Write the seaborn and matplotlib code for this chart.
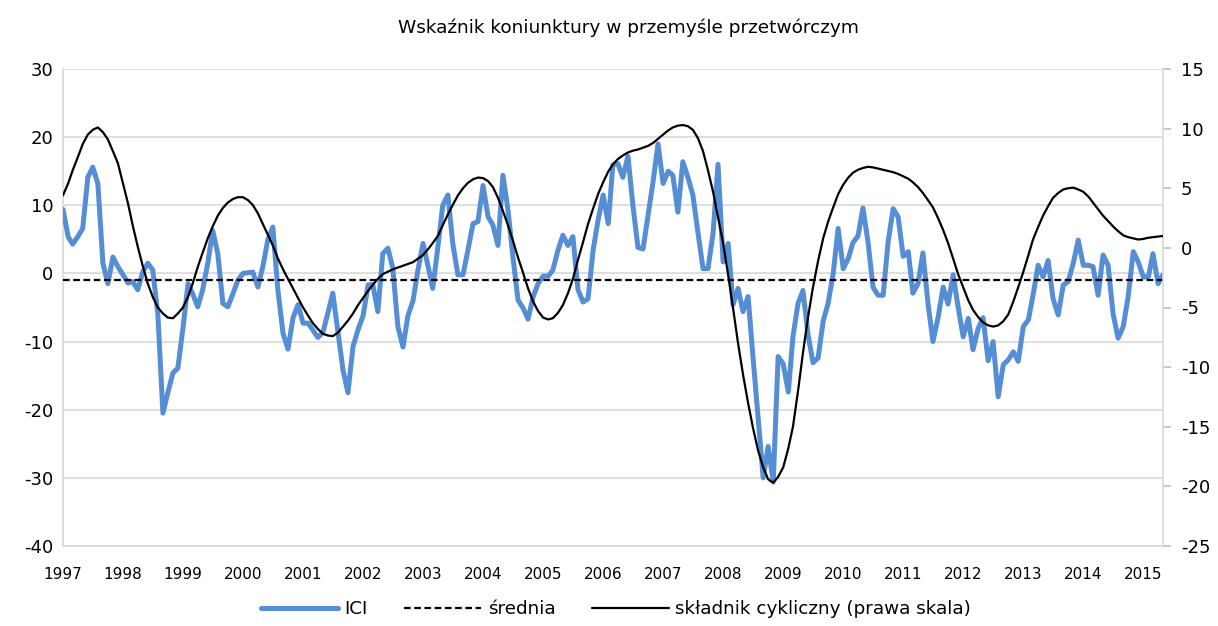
import matplotlib
matplotlib.use("Agg")
import matplotlib.pyplot as plt
import matplotlib.dates as mdates
from matplotlib.lines import Line2D
import pandas as pd
import seaborn as sns

# monthly data, Jan 1997 - May 2015
months = pd.date_range("1997-01-01", periods=221, freq="MS")

ici = [
    9.4, 5.4, 4.3, 5.4, 6.6, 14.1, 15.6, 13.2, 1.5, -1.5, 2.4, 1.0,            # 1997
    -0.2, -1.4, -1.2, -2.4, 0.2, 1.5, 0.5, -5.9, -20.5, -17.5, -14.6, -13.9,   # 1998
    -8.0, -1.5, -3.0, -4.9, -2.4, 1.5, 6.3, 2.9, -4.4, -4.9, -3.0, -1.0,       # 1999
    0.0, 0.1, 0.2, -2.0, 1.0, 5.0, 6.8, -2.5, -8.8, -11.1, -6.5, -4.6,         # 2000
    -7.3, -7.3, -8.3, -9.4, -8.7, -5.8, -2.9, -8.5, -14.2, -17.5, -10.7, -8.3, # 2001
    -6.2, -1.7, -1.6, -5.6, 2.9, 3.7, 0.8, -7.8, -10.8, -6.2, -4.0, 0.5,       # 2002
    4.4, 1.0, -2.2, 3.8, 10.0, 11.5, 4.4, -0.2, -0.2, 3.4, 7.3, 7.6,           # 2003
    12.9, 8.3, 7.1, 4.1, 14.4, 9.3, 2.4, -3.9, -5.1, -6.7, -3.4, -1.5,         # 2004
    -0.4, -0.4, 0.5, 3.4, 5.6, 4.1, 5.4, -2.4, -4.2, -3.7, 3.4, 7.8,           # 2005
    11.5, 7.3, 15.9, 16.1, 14.1, 17.2, 10.0, 3.8, 3.6, 8.5, 13.5, 19.0,        # 2006
    13.2, 15.0, 14.4, 9.0, 16.4, 14.1, 11.5, 6.0, 0.7, 0.7, 5.9, 16.0,         # 2007
    1.7, 4.4, -4.6, -2.2, -5.6, -3.4, -12.3, -21.2, -30.0, -25.4, -30.6, -12.2,  # 2008
    -13.3, -17.4, -9.3, -4.4, -2.5, -9.0, -13.1, -12.4, -7.0, -4.4, 0.0, 6.6,  # 2009
    0.7, 2.2, 4.5, 5.5, 9.6, 4.6, -2.0, -3.2, -3.2, 4.6, 9.5, 8.3,             # 2010
    2.5, 3.2, -2.9, -1.5, 3.0, -4.4, -10.0, -6.5, -2.0, -4.5, -0.2, -4.9,      # 2011
    -9.3, -6.6, -11.2, -8.1, -6.5, -12.8, -10.0, -18.1, -13.4, -12.7, -11.5, -12.9,  # 2012
    -7.8, -6.8, -3.2, 1.2, -0.5, 1.9, -3.7, -6.1, -1.7, -1.2, 1.5, 4.9,        # 2013
    1.2, 1.2, 1.0, -3.2, 2.7, 1.2, -5.9, -9.5, -7.8, -3.4, 3.2, 1.7,           # 2014
    -0.5, -0.5, 2.9, -1.5, -0.2,                                               # 2015
]

cycle = [
    4.4, 5.4, 6.5, 7.6, 8.7, 9.5, 9.9, 10.1, 9.7, 9.1, 8.1, 7.1,
    5.4, 3.7, 1.9, 0.1, -1.5, -3.0, -4.1, -5.0, -5.5, -5.85, -5.9, -5.5,
    -5.0, -4.1, -3.0, -1.6, -0.4, 0.8, 1.8, 2.7, 3.35, 3.8, 4.1, 4.25,
    4.25, 4.0, 3.6, 2.9, 2.0, 1.1, 0.2, -0.9, -1.8, -2.6, -3.4, -4.2,
    -5.0, -5.7, -6.3, -6.8, -7.2, -7.35, -7.4, -7.1, -6.6, -6.1, -5.5, -4.8,
    -4.2, -3.6, -3.1, -2.6, -2.2, -2.0, -1.8, -1.65, -1.5, -1.35, -1.2, -0.9,
    -0.6, -0.1, 0.4, 1.0, 1.9, 2.8, 3.6, 4.4, 5.0, 5.45, 5.75, 5.9,
    5.85, 5.6, 5.1, 4.2, 3.1, 1.9, 0.6, -0.8, -2.1, -3.4, -4.5, -5.3,
    -5.85, -6.0, -5.9, -5.45, -4.8, -3.8, -2.6, -1.0, 0.5, 2.0, 3.3, 4.5,
    5.5, 6.4, 7.0, 7.45, 7.75, 8.0, 8.15, 8.25, 8.4, 8.55, 8.8, 9.15,
    9.5, 9.85, 10.1, 10.25, 10.3, 10.2, 9.9, 9.2, 8.1, 6.5, 4.7, 2.6,
    0.4, -2.3, -5.0, -8.0, -10.6, -13.0, -15.1, -17.0, -18.4, -19.4, -19.7, -19.2,
    -18.4, -16.8, -15.0, -12.0, -8.8, -5.8, -3.3, -1.1, 0.8, 2.2, 3.4, 4.5,
    5.3, 5.9, 6.3, 6.55, 6.7, 6.8, 6.75, 6.65, 6.55, 6.45, 6.35, 6.2,
    6.0, 5.8, 5.5, 5.1, 4.6, 4.0, 3.4, 2.5, 1.5, 0.4, -0.9, -2.2,
    -3.3, -4.4, -5.2, -5.8, -6.25, -6.5, -6.6, -6.5, -6.15, -5.6, -4.5, -3.3,
    -2.0, -0.6, 0.7, 1.75, 2.7, 3.5, 4.2, 4.6, 4.9, 5.0, 5.05, 4.9,
    4.7, 4.3, 3.8, 3.25, 2.7, 2.25, 1.8, 1.4, 1.05, 0.9, 0.8, 0.7,
    0.75, 0.85, 0.9, 0.95, 1.0,
]

mean_level = -1.0
years = list(range(1997, 2016))
left_ticks = list(range(-40, 31, 10))
right_ticks = list(range(-25, 16, 5))

title = "Wskaźnik koniunktury w przemyśle przetwórczym"
labels = ["ICI", "średnia", "składnik cykliczny (prawa skala)"]

blue = "#558ed5"
grid_c = "#d9d9d9"

sns.set_style("white")
plt.rcParams["font.family"] = ["DejaVu Sans"]
plt.rcParams["axes.unicode_minus"] = False
plt.rcParams["text.color"] = "black"

df = pd.DataFrame({"date": months, "ici": ici, "cycle": cycle})

fig = plt.figure(figsize=(12.18, 6.26), dpi=100)
ax = fig.add_axes([63 / 1218, 1 - 546 / 626, 1100 / 1218, 477 / 626])

sns.lineplot(data=df, x="date", y="ici", ax=ax, color=blue, linewidth=3.6, zorder=3)
ax.axhline(mean_level, color="black", linewidth=1.6, linestyle=(0, (3, 1.6)), zorder=4)

ax.set_xlim(months[0], months[-1])
ax.set_ylim(-40, 30)
ax.set_yticks(left_ticks)
ax.yaxis.grid(True, color=grid_c, linewidth=1.2)
ax.set_axisbelow(True)
ax.set_xticks([pd.Timestamp(f"{y}-01-01") for y in years])
ax.xaxis.set_major_formatter(mdates.DateFormatter("%Y"))
ax.tick_params(axis="x", length=0, pad=15, labelsize=11, labelcolor="black")
ax.tick_params(axis="y", length=0, pad=7, labelsize=13, labelcolor="black")
ax.set_xlabel("")
ax.set_ylabel("")
for side in ["left", "bottom"]:
    ax.spines[side].set_color(grid_c)
    ax.spines[side].set_linewidth(1.2)
ax.spines["top"].set_visible(False)
ax.spines["right"].set_visible(False)

ax2 = ax.twinx()
sns.lineplot(data=df, x="date", y="cycle", ax=ax2, color="black", linewidth=1.6, zorder=5)
ax2.set_ylim(-25, 15)
ax2.set_yticks(right_ticks)
ax2.set_ylabel("")
ax2.tick_params(axis="y", direction="out", length=6, width=1.2, color="#bfbfbf", pad=7,
                labelsize=13, labelcolor="black")
for side in ["left", "top", "bottom"]:
    ax2.spines[side].set_visible(False)
ax2.spines["right"].set_color(grid_c)
ax2.spines["right"].set_linewidth(1.2)

fig.text(629 / 1218, 1 - 28 / 626, title, ha="center", va="center", fontsize=13.3)

handles = [
    Line2D([], [], color=blue, linewidth=3.6),
    Line2D([], [], color="black", linewidth=1.6, linestyle=(0, (3, 1.6))),
    Line2D([], [], color="black", linewidth=1.6),
]
fig.legend(handles, labels, loc="center", bbox_to_anchor=(616 / 1218, 1 - 609 / 626),
           ncol=3, frameon=False, fontsize=13.2, handlelength=4.2, handletextpad=0.35,
           columnspacing=2.0)

fig.savefig("out.png", dpi=100)
